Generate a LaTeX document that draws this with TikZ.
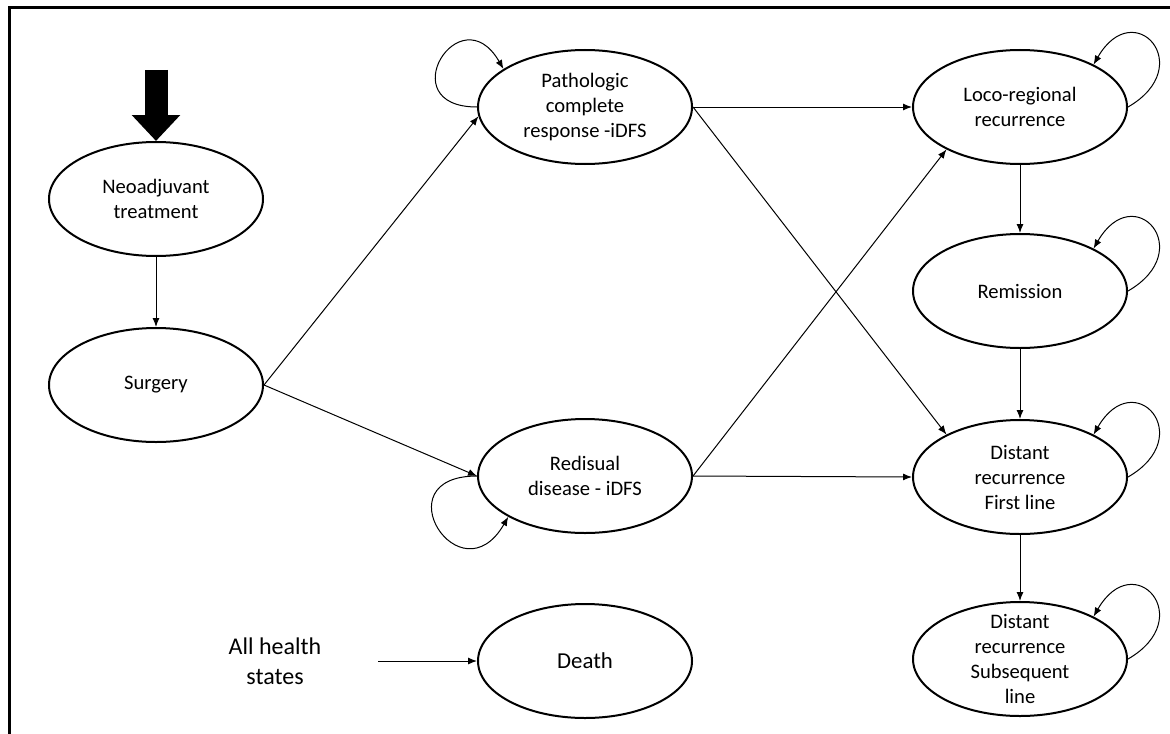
\documentclass[tikz,border=0pt]{standalone}
\usepackage{fontspec}
\setmainfont{Carlito}
\usepackage{tikz}
\usetikzlibrary{shapes.geometric, arrows, arrows.meta}
\tikzstyle{state} = [ellipse, minimum width=107pt, minimum height=57pt, inner xsep=0pt, inner ysep=-10pt, align=center, draw=black, line width=1pt, font=\fontsize{10.3pt}{12.5pt}\selectfont]
\tikzstyle{plain} = [align=center, font=\fontsize{12pt}{15pt}\selectfont]
\tikzstyle{arrow} = [->, >={Latex[length=4.5pt,width=3.5pt]}, line width=0.5pt]
\tikzstyle{selfarrow} = [arrow, looseness=4.8]
\tikzstyle{rightloop} = [arrow, looseness=3.8]
\tikzstyle{bigarrow} = [-{Triangle[width=23.5pt,length=13pt]}, line width=11.5pt]
\tikzstyle{frame} = [line width=1.5pt]

\begin{document}
\begin{tikzpicture}[x=0.5pt, y=-0.5pt]
	\useasboundingbox (0,0) rectangle (1170,733);
	\draw[frame] (9,745) -- (9,8) -- (1180,8);

	\node(neo) [state] at (156,199) {Neoadjuvant\\treatment};
	\node(surgery) [state, below of=neo, node distance=93pt] {Surgery};
	\node(pcr) [state] at (585,107) {Pathologic\\complete\\response -iDFS};
	\node(red) [state, below of=pcr, node distance=184.5pt] {Redisual\\disease - iDFS};
	\node(death) [state, below of=red, node distance=92.5pt, font=\fontsize{11.4pt}{13pt}\selectfont] {Death};
	\node(allstates) [plain, left of=death, node distance=155pt] {All health\\states};
	\node(loco) [state, right of=pcr, node distance=217.5pt] {Loco-regional\\recurrence};
	\node(remission) [state, below of=loco, node distance=92pt] {Remission};
	\node(distfirst) [state, below of=remission, node distance=93pt] {Distant\\recurrence\\First line};
	\node(distsub) [state, below of=distfirst, node distance=91pt] {Distant\\recurrence\\Subsequent\\line};
	\coordinate[above of=neo, node distance=64.5pt] (entry);

	\draw[bigarrow] (entry) -- (neo);
	\draw[arrow] (neo) -- (surgery);
	\draw[arrow] (surgery.east) -- (pcr.185);
	\draw[arrow] (surgery.east) -- (red.west);
	\draw[arrow] (pcr.east) -- (loco.west);
	\draw[arrow] (pcr.east) -- (distfirst.150);
	\draw[arrow] (red.east) -- (loco.210);
	\draw[arrow] (red.east) -- (distfirst.west);
	\draw[arrow] (loco) -- (remission);
	\draw[arrow] (remission) -- (distfirst);
	\draw[arrow] (distfirst) -- (distsub);
	\draw[arrow] ([xshift=25pt]allstates.east) -- (death);

	\draw[selfarrow] (pcr.west) to[out=180, in=120] (pcr.155);
	\draw[selfarrow] (red.west) to[out=180, in=240] (red.208);
	\draw[rightloop] (loco.east) to[out=30, in=60] (loco.30);
	\draw[rightloop] (remission.east) to[out=30, in=60] (remission.30);
	\draw[rightloop] (distfirst.east) to[out=30, in=60] (distfirst.30);
	\draw[rightloop] (distsub.east) to[out=30, in=60] (distsub.30);
\end{tikzpicture}
\end{document}
